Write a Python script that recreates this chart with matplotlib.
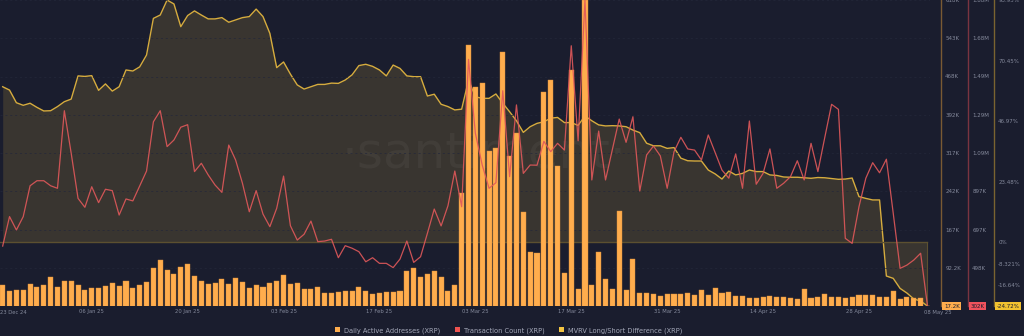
import numpy as np
import pandas as pd
import matplotlib
matplotlib.use("Agg")
import matplotlib.pyplot as plt
import matplotlib.transforms as mtransforms
from matplotlib.patches import Patch

dates = pd.date_range("2024-12-24", "2025-05-08", freq="D")

# Daily Active Addresses (thousands)
daa = [58.4, 47.2, 48.6, 48.6, 61.0, 53.9, 59.0, 73.5, 55.1, 66.3,
       66.3, 58.4, 48.6, 52.5, 52.0, 57.1, 61.8, 57.1, 66.9, 53.1,
       59.0, 63.7, 92.4, 107.5, 87.9, 80.6, 93.2, 99.7, 76.1, 66.9,
       60.4, 61.8, 69.6, 61.0, 71.6, 64.9, 52.5, 58.4, 54.5, 62.9,
       66.3, 77.5, 59.8, 62.9, 51.2, 50.0, 53.9, 42.7, 42.1, 44.7,
       46.1, 46.1, 53.9, 46.1, 40.2, 42.1, 44.7, 44.7, 46.1, 85.9,
       92.4, 73.5, 79.4, 85.9, 74.7, 46.1, 59.0, 239.7, 529.1, 447.8,
       454.5, 321.5, 328.0, 515.3, 312.3, 356.3, 201.2, 122.6, 122.0, 436.8,
       460.3, 292.1, 82.6, 480.6, 51.2, 618.0, 57.8, 123.2, 69.6, 51.2,
       204.3, 49.2, 109.5, 42.1, 42.1, 40.2, 36.8, 40.2, 40.2, 40.2,
       43.3, 38.2, 48.6, 39.4, 52.5, 43.3, 44.7, 36.8, 36.8, 33.5,
       33.5, 35.5, 37.4, 35.5, 35.5, 33.5, 30.4, 50.6, 32.3, 35.5,
       40.8, 35.5, 35.5, 33.5, 35.5, 38.2, 38.2, 38.2, 35.5, 34.9,
       46.1, 31.5, 35.5, 33.5, 33.5, 17.2]

# Transaction Count (thousands)
tx = [611, 763, 694, 763, 922, 948, 948, 922, 909, 1309,
      1090, 857, 811, 917, 835, 904, 897, 771, 854, 844,
      921, 998, 1252, 1309, 1124, 1158, 1224, 1237, 995, 1038,
      978, 926, 888, 1132, 1055, 935, 788, 897, 776, 711,
      806, 972, 716, 642, 672, 740, 634, 637, 646, 551,
      613, 600, 582, 530, 551, 522, 522, 500, 544, 637,
      527, 556, 677, 802, 715, 819, 998, 814, 1574, 1193,
      1029, 909, 938, 1412, 969, 1339, 986, 1029, 1028, 1151,
      1098, 1141, 1106, 1644, 1154, 1880, 952, 1204, 952, 1110,
      1266, 1146, 1278, 895, 1081, 1127, 1076, 909, 1098, 1172,
      1112, 1106, 1055, 1184, 1093, 1003, 961, 1086, 909, 1256,
      930, 986, 1112, 909, 935, 969, 1051, 952, 1141, 995,
      1170, 1342, 1316, 651, 625, 814, 961, 1041, 989, 1059,
      780, 496, 513, 539, 574, 302]

# MVRV Long/Short Difference (%)
mvrv = [60.3, 59.0, 54.1, 53.1, 53.9, 52.3, 50.9, 51.0, 52.6, 54.5,
        55.5, 64.5, 64.3, 64.6, 58.9, 61.4, 58.6, 60.3, 66.8, 66.4,
        68.0, 72.6, 86.8, 88.1, 93.9, 92.4, 83.6, 87.9, 89.7, 88.1,
        86.6, 86.6, 87.1, 85.3, 86.2, 87.1, 87.5, 90.4, 87.5, 81.0,
        67.7, 69.9, 65.2, 61.0, 59.4, 60.3, 61.2, 61.2, 61.7, 61.6,
        62.9, 64.9, 68.5, 69.0, 68.2, 66.8, 64.5, 68.7, 67.4, 64.5,
        64.2, 64.2, 56.7, 57.4, 53.5, 52.6, 51.3, 51.6, 62.9, 56.4,
        55.8, 55.8, 57.5, 53.9, 50.6, 47.1, 42.6, 44.8, 46.1, 46.7,
        48.1, 48.4, 46.4, 46.4, 45.3, 49.0, 47.1, 45.5, 45.1, 45.2,
        45.1, 44.8, 43.5, 42.5, 38.4, 37.4, 37.4, 36.4, 36.7, 32.6,
        31.6, 31.5, 31.5, 28.0, 26.5, 24.5, 27.6, 26.1, 26.7, 28.0,
        27.4, 27.4, 26.1, 25.9, 25.3, 25.2, 25.2, 25.0, 24.8, 25.1,
        25.0, 24.7, 24.4, 24.5, 24.9, 17.7, 17.0, 16.4, 16.4, -13.1,
        -14.0, -17.9, -19.7, -22.0, -22.8, -24.72]

daa_ticks = ["92.2K", "167K", "242K", "317K", "392K", "468K", "543K", "618K"]
tx_ticks = ["498K", "697K", "897K", "1.09M", "1.29M", "1.49M", "1.68M", "1.88M"]
mvrv_ticks = [-16.64, -8.321, 0, 23.48, 46.97, 70.45, 93.93]
mvrv_tick_labels = ["-16.64%", "-8.321%", "0%", "23.48%", "46.97%", "70.45%", "93.93%"]
date_ticks = ["2025-01-06", "2025-01-20", "2025-02-03", "2025-02-17", "2025-03-03",
              "2025-03-17", "2025-03-31", "2025-04-14", "2025-04-28"]

bg = "#1a1d2e"
c_bar = "#ffad4d"
c_tx = "#e0585a"
c_mv = "#d6ac3e"
c_txt = "#858a9c"

fig = plt.figure(figsize=(10.24, 3.36), dpi=100, facecolor=bg)
ax_m = fig.add_axes([0, 30 / 336, 930 / 1024, 306 / 336], facecolor=bg)
ax_b = ax_m.twinx()
ax_t = ax_m.twinx()

x = dates
# MVRV area
ax_m.fill_between(x, mvrv, 0, color=c_mv, alpha=0.17, lw=0)
ax_m.plot(x, mvrv, color=c_mv, lw=1.0)
ax_m.plot([x[0] - pd.Timedelta(days=1), x[-1]], [0, 0], color="#5c5030", lw=1.0)
ax_m.plot([x[-1], x[-1]], [0, mvrv[-1]], color="#5c5030", lw=0.8)
ax_m.set_ylim(-24.72, 93.93)

# bars
ax_b.bar(x, daa, width=0.74, color=c_bar, edgecolor="#d98f3a", lw=0.3, zorder=2)
ax_b.set_ylim(17.2, 618)

# transaction count
ax_t.plot(x, tx, color=c_tx, lw=0.9, alpha=0.9)
ax_t.set_ylim(302, 1880)

xl = (x[0] - pd.Timedelta(hours=9.4), x[-1] + pd.Timedelta(hours=8.8))
for a in (ax_m, ax_b, ax_t):
    a.set_xlim(xl)
    for s in a.spines.values():
        s.set_visible(False)
    a.yaxis.tick_right()
    a.tick_params(axis="y", length=0, pad=3, labelsize=4, labelcolor=c_txt)

ax_b.grid(axis="y", color="#24283a", ls=(0, (3, 4)), lw=0.5)
ax_b.set_yticks(np.linspace(17.2, 618, 9)[1:])
ax_b.set_yticklabels(daa_ticks)
ax_t.set_yticks(np.linspace(302, 1880, 9)[1:])
ax_t.set_yticklabels(tx_ticks)
ax_m.set_yticks(mvrv_ticks)
ax_m.set_yticklabels(mvrv_tick_labels)

spines = [(ax_b, 941, "#7a5a33"), (ax_t, 968, "#7a3440"), (ax_m, 994, "#7a6430")]
for a, px, col in spines:
    a.spines["right"].set_visible(True)
    a.spines["right"].set_position(("axes", px / 930))
    a.spines["right"].set_color(col)
    a.spines["right"].set_linewidth(1.0)

# current value boxes
boxes = [(ax_b, 942, daa[-1], "17.2K", c_bar),
         (ax_t, 969, tx[-1], "302K", "#f0525c"),
         (ax_m, 995, mvrv[-1], "-24.72%", "#f2c230")]
for a, px, val, lab, col in boxes:
    tr = mtransforms.blended_transform_factory(a.transAxes, a.transData)
    a.text(px / 930 + 0.002, val, lab, transform=tr, ha="left", va="center",
           fontsize=4, color="#1a1d2e",
           bbox=dict(boxstyle="square,pad=0.25", fc=col, ec="none"), clip_on=False)

# x axis labels
ax_m.set_xticks(pd.to_datetime(date_ticks))
ax_m.set_xticklabels([pd.Timestamp(d).strftime("%d %b %y") for d in date_ticks])
ax_m.tick_params(axis="x", length=0, pad=2, labelsize=3.8, labelcolor=c_txt)
for a in (ax_b, ax_t):
    a.tick_params(axis="x", bottom=False, labelbottom=False)
ax_m.text(0, -0.012, "23 Dec 24", transform=ax_m.transAxes, ha="left", va="top",
          fontsize=3.8, color=c_txt)
ax_m.text(938 / 930, -0.012, "08 May 25", transform=ax_m.transAxes, ha="center",
          va="top", fontsize=3.8, color=c_txt, clip_on=False)

# watermark
ax_m.text(0.52, 0.5, "·santiment·", transform=ax_m.transAxes, ha="center",
          va="center", fontsize=36, color="white", alpha=0.045)

handles = [Patch(facecolor=c_bar), Patch(facecolor="#ef5350"), Patch(facecolor="#f4c542")]
labels = ["Daily Active Addresses (XRP)", "Transaction Count (XRP)",
          "MVRV Long/Short Difference (XRP)"]
fig.legend(handles, labels, loc="center", bbox_to_anchor=(508.5 / 1024, 5.5 / 336),
           ncol=3, frameon=False, fontsize=4.8, labelcolor="#a3a7b8",
           handlelength=0.75, handleheight=0.75, handletextpad=0.6,
           columnspacing=2.2, borderpad=0)

fig.savefig("out.png", dpi=100, facecolor=bg)
